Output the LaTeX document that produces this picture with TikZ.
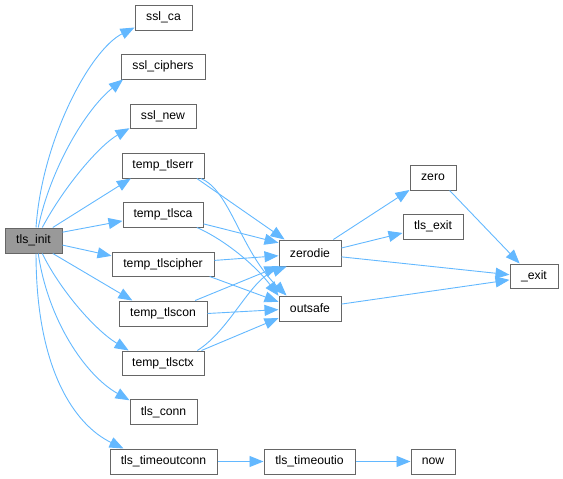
\documentclass[tikz,border=0pt]{standalone}
\usepackage{fontspec}
\setmainfont{Liberation Sans}
\usetikzlibrary{arrows.meta}
\definecolor{edgeblue}{HTML}{63B8FF}
\definecolor{boxgray}{HTML}{666666}
\definecolor{rootfill}{HTML}{999999}
\begin{document}
\begin{tikzpicture}[x=1pt,y=-1pt,
  fn/.style={draw=boxgray,line width=1pt,fill=white,minimum height=25pt,inner sep=0pt,
    font=\fontsize{12.2}{14}\selectfont,text=black},
  root/.style={fn,fill=rootfill},
  call/.style={draw=edgeblue,line width=0.9pt,-{Triangle[length=14pt,width=11pt]}}]
\useasboundingbox (0,0) rectangle (563,479);
% nodes
\node[root,minimum width=57pt] (init) at (33.5,240.5) {tls\_init};
\node[fn,minimum width=57pt] (sslca) at (163.5,17.5) {ssl\_ca};
\node[fn,minimum width=84pt] (sslciphers) at (163,66.5) {ssl\_ciphers};
\node[fn,minimum width=66pt,minimum height=24pt] (sslnew) at (163,116) {ssl\_new};
\node[fn,minimum width=82pt] (tlserr) at (163,165.5) {temp\_tlserr};
\node[fn,minimum width=80pt] (tlsca) at (163,214.5) {temp\_tlsca};
\node[fn,minimum width=102pt,minimum height=24pt] (tlscipher) at (163,264) {temp\_tlscipher};
\node[fn,minimum width=88pt] (tlscon) at (163,313.5) {temp\_tlscon};
\node[fn,minimum width=82pt,minimum height=24pt] (tlsctx) at (163,363) {temp\_tlsctx};
\node[fn,minimum width=67pt] (tlsconn) at (163.5,412) {tls\_conn};
\node[fn,minimum width=107pt] (tocon) at (163.5,461.5) {tls\_timeoutconn};
\node[fn,minimum width=62pt,minimum height=26pt] (zerodie) at (310,253) {zerodie};
\node[fn,minimum width=62pt] (outsafe) at (310,308.5) {outsafe};
\node[fn,minimum width=46pt] (zero) at (433,177.5) {zero};
\node[fn,minimum width=60pt] (tlsexit) at (433,226.5) {tls\_exit};
\node[fn,minimum width=48pt,minimum height=24pt] (uexit) at (534,276) {\_exit};
\node[fn,minimum width=91pt] (toio) at (309.5,461.5) {tls\_timeoutio};
\node[fn,minimum width=44pt] (now) at (433,461.5) {now};
% edges from tls_init
\draw[call] (init.79) .. controls (42,140) and (90,50) .. (sslca.199.6);
\draw[call] (init.70) .. controls (50,170) and (85,110) .. (sslciphers.198.7);
\draw[call] (init.56) .. controls (65,185) and (100,145) .. (sslnew.200.6);
\draw[call] (init.34) -- (tlserr.202.6);
\draw[call] (init.16.6) -- (tlsca.189.2);
\draw[call] (init.-9) -- (tlscipher.171);
\draw[call] (init.-34) -- (tlscon.157.4);
\draw[call] (init.-56) .. controls (60,290) and (95,330) .. (tlsctx.160.6);
\draw[call] (init.-70) .. controls (48,320) and (85,375) .. (tlsconn.161.3);
\draw[call] (init.-79) .. controls (36,370) and (75,425) .. (tocon.162);
% timeout chain
\draw[call] (tocon.east) -- (toio.west);
\draw[call] (toio.east) -- (now.west);
% to zerodie
\draw[call] (tlserr.-21.3) -- (zerodie.152.5);
\draw[call] (tlsca.-13.4) -- (zerodie.162);
\draw[call] (tlscipher.4.5) -- (zerodie.185.5);
\draw[call] (tlscon.22.6) -- (zerodie.203.4);
\draw[call] (tlsctx.20.6) .. controls (230,330) and (250,280) .. (zerodie.210.6);
% to outsafe
\draw[call] (tlserr.-19.1) .. controls (230,190) and (240,250) .. (outsafe.151.5);
\draw[call] (tlsca.-21.3) .. controls (225,240) and (255,265) .. (outsafe.158.4);
\draw[call] (tlscipher.-15.3) -- (outsafe.168.2);
\draw[call] (tlscon.0) -- (outsafe.182.8);
\draw[call] (tlsctx.18.9) -- (outsafe.197);
% right part
\draw[call] (zerodie.30.6) -- (zero.208.5);
\draw[call] (zerodie.9.2) -- (tlsexit.192.2);
\draw[call] (zerodie.-7.4) -- (uexit.177.6);
\draw[call] (outsafe.8.3) -- (uexit.189.5);
\draw[call] (zero.-38) -- (uexit.139.4);
\end{tikzpicture}
\end{document}
